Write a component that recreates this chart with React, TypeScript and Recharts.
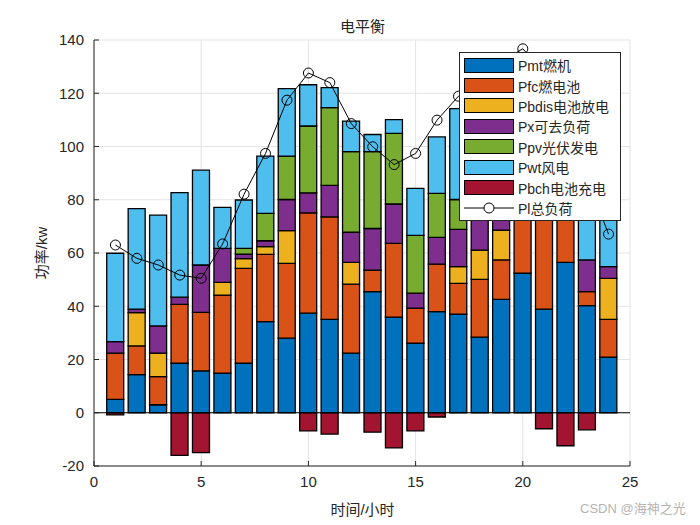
import { ComposedChart, Bar, Line, XAxis, YAxis, CartesianGrid, Legend, ReferenceLine } from 'recharts';

const hours = [1, 2, 3, 4, 5, 6, 7, 8, 9, 10, 11, 12, 13, 14, 15, 16, 17, 18, 19, 20, 21, 22, 23, 24];
const pmt = [5, 14.3, 3, 18.6, 15.7, 14.9, 18.6, 34.2, 28, 37.4, 35.1, 22.4, 45.5, 35.9, 26.1, 38, 37, 28.4, 42.6, 52.4, 38.9, 56.5, 40.2, 20.9];
const pfc = [17.4, 10.8, 10.6, 22.1, 22, 29.3, 35.6, 25.3, 28.1, 37.7, 38.5, 25.9, 8.1, 27.7, 13.2, 17.8, 11.6, 21.7, 14.8, 38, 40, 30, 5.3, 14.2];
const pbdis = [0, 12.5, 8.8, 0, 0, 4.8, 3.7, 2.9, 12.3, 0, 0, 8.2, 0, 0, 0, 0, 6.3, 11, 11.2, 0, 0, 0, 0, 15.4];
const px = [4.3, 1.3, 10.2, 2.7, 17.8, 12.7, 1.7, 2.2, 11.7, 7.5, 11.8, 11.3, 15.6, 14.8, 5.6, 10.1, 14, 12, 13, 10, 12, 8, 11.9, 4.4];
const ppv = [0, 0, 0, 0, 0, 0, 2.1, 10.3, 16.3, 25.1, 29.2, 30.3, 28.9, 26.5, 21.7, 16.5, 11.2, 14, 10, 5, 0, 0, 0, 0];
const pwt = [33.2, 37.8, 41.6, 39.3, 35.6, 15.4, 18.2, 21.5, 25.3, 15.5, 7.5, 11.4, 6.4, 5.2, 17.7, 21.2, 34.1, 35, 35, 25, 32, 15, 25, 20];
const pbch = [-0.8, 0, 0, -16, -15, 0, 0, 0, 0, -6.8, -8, 0, -7.3, -13.2, -6.8, -1.6, 0, 0, 0, 0, -6, -12.4, -6.4, 0];
const pl = [63, 58, 55.5, 51.7, 50.5, 63.4, 82.1, 97.4, 117.4, 127.6, 124, 108.6, 99.9, 93.2, 97.4, 109.9, 118.9, 126, 132, 136.7, 128, 115, 88, 67.1];

const xTicks = [0, 5, 10, 15, 20, 25];
const yTicks = [-20, 0, 20, 40, 60, 80, 100, 120, 140];

const barKeys = ['pmt', 'pfc', 'pbdis', 'px', 'ppv', 'pwt', 'pbch'];
const barNames = ['Pmt燃机', 'Pfc燃电池', 'Pbdis电池放电', 'Px可去负荷', 'Ppv光伏发电', 'Pwt风电', 'Pbch电池充电'];
const barColors = ['#0072BD', '#D95319', '#EDB120', '#7E2F8E', '#77AC30', '#4DBEEE', '#A2142F'];
const lineName = 'Pl总负荷';

const data = hours.map((h, i) => ({
  hour: h,
  pmt: pmt[i],
  pfc: pfc[i],
  pbdis: pbdis[i],
  px: px[i],
  ppv: ppv[i],
  pwt: pwt[i],
  pbch: pbch[i],
  pl: pl[i],
}));

const FONT = "'Liberation Sans', 'Noto Sans CJK SC', sans-serif";
const INK = '#262626';

function LegendBox() {
  return (
    <div style={{ width: 162, height: 169, background: '#fff', border: '1px solid #262626', fontFamily: FONT, fontSize: 14, color: INK, boxSizing: 'border-box', paddingTop: 2 }}>
      {barNames.map((n, i) => (
        <div key={n} style={{ display: 'flex', alignItems: 'center', height: 20.4 }}>
          <div style={{ width: 50, height: 15, marginLeft: 4, background: barColors[i], border: '1px solid #000', boxSizing: 'border-box' }} />
          <span style={{ marginLeft: 4, whiteSpace: 'nowrap' }}>{n}</span>
        </div>
      ))}
      <div style={{ display: 'flex', alignItems: 'center', height: 20.4 }}>
        <svg width={50} height={14} style={{ marginLeft: 4 }}>
          <line x1={0} y1={7} x2={50} y2={7} stroke="#000" strokeWidth={1} />
          <circle cx={25} cy={7} r={5} fill="#fff" stroke="#000" strokeWidth={1} />
        </svg>
        <span style={{ marginLeft: 4, whiteSpace: 'nowrap' }}>{lineName}</span>
      </div>
    </div>
  );
}

function YLabel() {
  return (
    <text x={41} y={253} transform="rotate(-90 41 253)" textAnchor="middle" dominantBaseline="central" fill={INK} fontSize={15} fontFamily={FONT}>
      功率/kw
    </text>
  );
}

export default function App() {
  return (
    <div style={{ position: 'absolute', left: 0, top: 0, width: 700, height: 525, background: '#fff' }}>
      <div style={{ position: 'absolute', left: 0, width: 725, top: 15, textAlign: 'center', fontFamily: FONT, fontSize: 15, color: INK }}>电平衡</div>
      <ComposedChart
        width={700}
        height={525}
        data={data}
        stackOffset="sign"
        margin={{ top: 40, right: 70, bottom: 0, left: 0 }}
      >
        <CartesianGrid stroke="#e3e3e3" horizontalValues={yTicks} verticalValues={xTicks} />
        <XAxis
          dataKey="hour"
          type="number"
          domain={[0, 25]}
          ticks={xTicks}
          allowDataOverflow
          height={59}
          tickSize={-5}
          tickMargin={15}
          stroke={INK}
          tick={{ fill: INK, fontSize: 15, fontFamily: FONT }}
        />
        <YAxis
          type="number"
          domain={[-20, 140]}
          ticks={yTicks}
          width={94}
          tickSize={-5}
          tickMargin={15}
          stroke={INK}
          tick={{ fill: INK, fontSize: 15, fontFamily: FONT }}
          label={<YLabel />}
        />
        <ReferenceLine y={0} stroke="#000" strokeWidth={1} />
        {barKeys.map((k, i) => (
          <Bar
            key={k}
            dataKey={k}
            name={barNames[i]}
            stackId="p"
            fill={barColors[i]}
            stroke="#000"
            strokeWidth={1.3}
            barSize={17}
            isAnimationActive={false}
          />
        ))}
        <Line
          dataKey="pl"
          name={lineName}
          stroke="#000"
          strokeWidth={1}
          dot={{ r: 5, fill: 'none', stroke: '#000', strokeWidth: 1 }}
          isAnimationActive={false}
        />
        <Legend
          layout="vertical"
          align="center"
          verticalAlign="middle"
          content={() => <LegendBox />}
          wrapperStyle={{ position: 'absolute', left: 459, top: 52, width: 162, height: 169 }}
        />
      </ComposedChart>
      <div style={{ position: 'absolute', left: 0, width: 725, top: 498, textAlign: 'center', fontFamily: FONT, fontSize: 15, color: INK }}>时间/小时</div>
      <div style={{ position: 'absolute', left: 580, top: 498, whiteSpace: 'nowrap', fontFamily: FONT, fontSize: 13, color: '#b4b4b4' }}>CSDN @海神之光</div>
    </div>
  );
}
